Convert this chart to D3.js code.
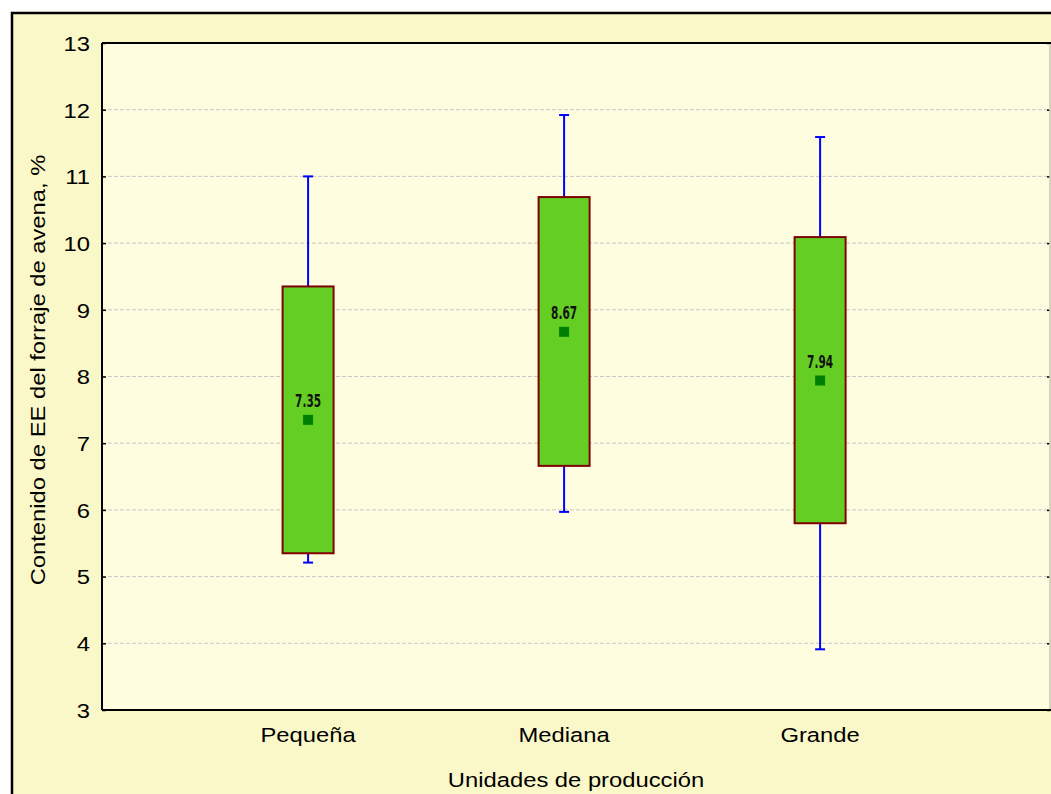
<!DOCTYPE html>
<html><head><meta charset="utf-8">
<script src="https://cdn.jsdelivr.net/npm/d3@7"></script>
<style>html,body{margin:0;padding:0;background:#fff;}svg{display:block;}</style>
</head><body>
<svg id="chart" width="1051" height="794"></svg>
<script>
const categories = ["Pequeña", "Mediana", "Grande"];
const means = [7.35, 8.67, 7.94];
const boxLow = [5.35, 6.66, 5.80];
const boxHigh = [9.35, 10.69, 10.09];
const whiskerLow = [5.21, 5.97, 3.91];
const whiskerHigh = [11.0, 11.92, 11.59];
const meanLabels = ["7.35", "8.67", "7.94"];
const yTicks = [3, 4, 5, 6, 7, 8, 9, 10, 11, 12, 13];

const svg = d3.select("#chart");
const L = 102, R = 1050, T = 43, B = 710;
const FONT = "Liberation Sans, Arial, sans-serif";
const FS = 20.5, SX = 1.16;

svg.append("rect").attr("x", 12).attr("y", 13).attr("width", 1100).attr("height", 900)
  .attr("fill", "#FAF8C8").attr("stroke", "#000").attr("stroke-width", 2.5);
svg.append("rect").attr("x", L).attr("y", T).attr("width", R - L).attr("height", B - T)
  .attr("fill", "#FEFDE0");

const y = d3.scaleLinear().domain([3, 13]).range([B, T]);
const x = d3.scaleLinear().domain([0.195, 3.898]).range([L, R]);

// grid
svg.append("g").selectAll("line").data(yTicks.filter(t => t > 3 && t < 13)).join("line")
  .attr("x1", L).attr("x2", R - 2).attr("y1", d => y(d)).attr("y2", d => y(d))
  .attr("stroke", "#c8c8c8").attr("stroke-width", 1).attr("stroke-dasharray", "4,2");

// left axis
const yAxis = d3.axisLeft(y).tickValues(yTicks).tickSize(-4).tickPadding(12).tickFormat(d3.format("d"));
const gy = svg.append("g").attr("transform", `translate(${L},0)`).call(yAxis);
gy.select(".domain").remove();
gy.selectAll(".tick line").attr("stroke", "#000").attr("stroke-width", 1.5);
gy.selectAll(".tick text").attr("font-family", FONT)
  .attr("font-size", FS).attr("fill", "#000").attr("dy", "0.36em")
  .attr("transform", `translate(-12,0) scale(${SX},1)`).attr("x", 0);

// right axis
const yAxisR = d3.axisRight(y).tickValues(yTicks).tickSize(-3).tickFormat("");
const gyr = svg.append("g").attr("transform", `translate(${R},0)`).call(yAxisR);
gyr.select(".domain").remove();
gyr.selectAll(".tick line").attr("stroke", "#000").attr("stroke-width", 1.5);
svg.append("line").attr("x1", R).attr("x2", R).attr("y1", T).attr("y2", B)
  .attr("stroke", "#c8c8b8").attr("stroke-width", 1.5);

// frame lines
svg.append("line").attr("x1", L).attr("x2", L).attr("y1", T).attr("y2", B).attr("stroke", "#000").attr("stroke-width", 2);
svg.append("line").attr("x1", L).attr("x2", 1051).attr("y1", T).attr("y2", T).attr("stroke", "#000").attr("stroke-width", 2);
svg.append("line").attr("x1", L).attr("x2", 1051).attr("y1", B).attr("y2", B).attr("stroke", "#000").attr("stroke-width", 2);

// x tick labels
svg.append("g").selectAll("text").data(categories).join("text")
  .attr("transform", (d, i) => `translate(${x(i + 1)},742) scale(${SX},1)`).attr("text-anchor", "middle")
  .attr("font-family", FONT).attr("font-size", FS).attr("fill", "#000")
  .text(d => d);

// titles
svg.append("text").attr("transform", `translate(${(L + R) / 2},787) scale(${SX},1)`).attr("text-anchor", "middle")
  .attr("font-family", FONT).attr("font-size", FS).attr("fill", "#000")
  .text("Unidades de producción");
svg.append("text").attr("transform", `translate(45,370) rotate(-90) scale(${SX},1)`).attr("text-anchor", "middle")
  .attr("font-family", FONT).attr("font-size", FS).attr("fill", "#000")
  .text("Contenido de EE del forraje de avena, %");

const boxW = 51, capW = 10;
const g = svg.append("g");
categories.forEach((c, i) => {
  const cx = x(i + 1);
  // whiskers
  g.append("line").attr("x1", cx).attr("x2", cx).attr("y1", y(whiskerHigh[i])).attr("y2", y(boxHigh[i]))
    .attr("stroke", "#0000ff").attr("stroke-width", 2);
  g.append("line").attr("x1", cx).attr("x2", cx).attr("y1", y(boxLow[i])).attr("y2", y(whiskerLow[i]))
    .attr("stroke", "#0000ff").attr("stroke-width", 2);
  g.append("line").attr("x1", cx - capW / 2).attr("x2", cx + capW / 2).attr("y1", y(whiskerHigh[i])).attr("y2", y(whiskerHigh[i]))
    .attr("stroke", "#0000ff").attr("stroke-width", 2);
  g.append("line").attr("x1", cx - capW / 2).attr("x2", cx + capW / 2).attr("y1", y(whiskerLow[i])).attr("y2", y(whiskerLow[i]))
    .attr("stroke", "#0000ff").attr("stroke-width", 2);
  // box
  g.append("rect").attr("x", cx - boxW / 2).attr("y", y(boxHigh[i])).attr("width", boxW)
    .attr("height", y(boxLow[i]) - y(boxHigh[i]))
    .attr("fill", "#64CF22").attr("stroke", "#800000").attr("stroke-width", 2);
  // mean marker
  g.append("rect").attr("x", cx - 5).attr("y", y(means[i]) - 5).attr("width", 10).attr("height", 10)
    .attr("fill", "#007F00");
  g.append("text").attr("x", cx).attr("y", y(means[i]) - 13).attr("text-anchor", "middle")
    .attr("font-family", "DejaVu Sans Condensed, DejaVu Sans, sans-serif").attr("font-weight", "bold")
    .attr("font-size", 17.5).attr("fill", "#111")
    .attr("textLength", 26).attr("lengthAdjust", "spacingAndGlyphs")
    .text(meanLabels[i]);
});
</script>
</body></html>
